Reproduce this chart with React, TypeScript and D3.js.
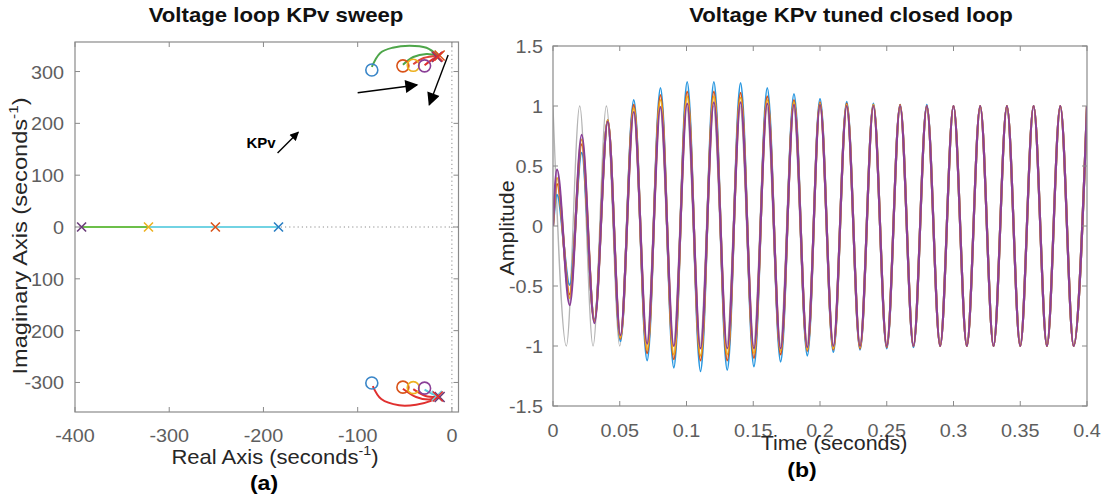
import React from "react";
import * as d3 from "d3";

// ---------- Left panel: pole-zero / root locus data (Real, Imag) ----------
const realAxisPoles = [
  { re: -393, color: "#6b3d7a" },
  { re: -322, color: "#EDB120" },
  { re: -251, color: "#D95319" },
  { re: -184, color: "#2a7fc4" },
];
const realAxisBranches = [
  { from: -393, to: -322, color: "#6cbf4a" },
  { from: -322, to: -184, color: "#72d3e3" },
];
const complexCircles = [
  { re: -85, im: 303, color: "#3a86c8" },
  { re: -52, im: 311, color: "#D95319" },
  { re: -41, im: 312, color: "#EDB120" },
  { re: -29, im: 311, color: "#8a3f97" },
  { re: -85, im: -301, color: "#3a86c8" },
  { re: -52, im: -309, color: "#D95319" },
  { re: -41, im: -310, color: "#EDB120" },
  { re: -29, im: -311, color: "#8a3f97" },
];
const complexCrosses = [
  { re: -16, im: 328, color: "#6b3d7a" },
  { re: -13, im: 331, color: "#D95319" },
  { re: -15, im: 329, color: "#e03030" },
  { re: -16, im: -326, color: "#72d3e3" },
  { re: -13, im: -328, color: "#6b3d7a" },
  { re: -15, im: -327, color: "#e03030" },
];
const branchGreen1 = [[-85, 309], [-76, 336], [-63, 346], [-45, 350], [-27, 346], [-15, 331]];
const branchGreen2 = [[-52, 313], [-41, 328], [-27, 334], [-15, 331]];
const branchRed1 = [[-41, 314], [-30, 326], [-15, 330]];
const branchRed2 = [[-29, 312], [-21, 323], [-14, 330]];
const branchRedLow1 = [[-84, -307], [-75, -332], [-56, -344], [-38, -343], [-23, -336], [-14, -327]];
const branchRedLow2 = [[-52, -312], [-38, -328], [-24, -333], [-14, -328]];
const branchRedLow3 = [[-41, -313], [-28, -326], [-15, -328]];
const branchCyanLow = [[-29, -314], [-21, -322], [-14, -327]];

const annotationArrows = [
  { x1: -100, y1: 259, x2: -37, y2: 274, big: true },
  { x1: -4, y1: 332, x2: -24, y2: 236, big: true },
  { x1: -185, y1: 143, x2: -163, y2: 183, big: false },
];
const kpvLabel = { re: -218, im: 152, text: "KPv" };

const leftXTicks = [-400, -300, -200, -100, 0];
const leftXTickLabels = ["-400", "-300", "-200", "-100", "0"];
const leftYTicks = [-300, -200, -100, 0, 100, 200, 300];
const leftYTickLabels = ["-300", "200", "100", "0", "100", "200", "300"];

// ---------- Right panel: closed-loop responses (extrema) ----------
const extremaTimes = [
  0, 0.003, 0.0125, 0.0215, 0.031, 0.041, 0.0505, 0.0605, 0.0705, 0.0805, 0.0905,
  0.1005, 0.1105, 0.1205, 0.1305, 0.1405, 0.1505, 0.1605, 0.1705, 0.1805, 0.1905,
  0.2, 0.21, 0.22, 0.23, 0.24, 0.25, 0.26, 0.27, 0.28, 0.29, 0.3, 0.31, 0.32, 0.33,
  0.34, 0.35, 0.36, 0.37, 0.38, 0.39, 0.4,
];
const blueValues = [
  0, 0.26, -0.49, 0.61, -0.78, 0.88, -0.96, 1.05, -1.12, 1.15, -1.18, 1.2, -1.21, 1.2,
  -1.2, 1.19, -1.17, 1.15, -1.13, 1.1, -1.08, 1.06, -1.05, 1.035, -1.03, 1.02, -1.02,
  1.01, -1.01, 1.01, -1.0, 1.0, -1.0, 1.0, -1.0, 1.0, -1.0, 1.0, -1.0, 1.0, -1.0, 1.0,
];
const orangeValues = [
  0, 0.35, -0.57, 0.68, -0.79, 0.88, -0.94, 1.01, -1.06, 1.09, -1.11, 1.12, -1.12, 1.12,
  -1.12, 1.11, -1.1, 1.08, -1.07, 1.05, -1.04, 1.03, -1.03, 1.02, -1.02, 1.01, -1.01,
  1.01, -1.0, 1.0, -1.0, 1.0, -1.0, 1.0, -1.0, 1.0, -1.0, 1.0, -1.0, 1.0, -1.0, 1.0,
];
const yellowValues = [
  0, 0.4, -0.6, 0.72, -0.8, 0.88, -0.93, 0.98, -1.03, 1.05, -1.07, 1.08, -1.08, 1.08,
  -1.07, 1.07, -1.06, 1.05, -1.04, 1.03, -1.03, 1.02, -1.02, 1.01, -1.01, 1.01, -1.0,
  1.0, -1.0, 1.0, -1.0, 1.0, -1.0, 1.0, -1.0, 1.0, -1.0, 1.0, -1.0, 1.0, -1.0, 1.0,
];
const purpleValues = [
  0, 0.47, -0.66, 0.76, -0.81, 0.87, -0.91, 0.95, -0.98, 0.99, -1.0, 1.02, -1.02, 1.03,
  -1.02, 1.03, -1.02, 1.02, -1.02, 1.01, -1.01, 1.01, -1.0, 1.0, -1.0, 1.0, -1.0, 1.0,
  -1.0, 1.0, -1.0, 1.0, -1.0, 1.0, -1.0, 1.0, -1.0, 1.0, -1.0, 1.0, -1.0, 1.0,
];
const refTimes = [
  0, 0.01, 0.02, 0.03, 0.04, 0.05, 0.06, 0.07, 0.08, 0.09, 0.1, 0.11, 0.12, 0.13, 0.14,
  0.15, 0.16, 0.17, 0.18, 0.19, 0.2, 0.21, 0.22, 0.23, 0.24, 0.25, 0.26, 0.27, 0.28, 0.29,
  0.3, 0.31, 0.32, 0.33, 0.34, 0.35, 0.36, 0.37, 0.38, 0.39, 0.4,
];
const refValues = [
  1, -1, 1, -1, 1, -1, 1, -1, 1, -1, 1, -1, 1, -1, 1, -1, 1, -1, 1, -1, 1, -1, 1, -1, 1,
  -1, 1, -1, 1, -1, 1, -1, 1, -1, 1, -1, 1, -1, 1, -1, 1,
];
const responseSeries = [
  { name: "ref", times: refTimes, values: refValues, color: "#b4b4b4", width: 1.3 },
  { name: "blue", times: extremaTimes, values: blueValues, color: "#2a98e0", width: 2.2 },
  { name: "orange", times: extremaTimes, values: orangeValues, color: "#D95319", width: 2.2 },
  { name: "yellow", times: extremaTimes, values: yellowValues, color: "#EDB120", width: 2.2 },
  { name: "purple", times: extremaTimes, values: purpleValues, color: "#8a3f97", width: 2.2 },
];
const rightXTicks = [0, 0.05, 0.1, 0.15, 0.2, 0.25, 0.3, 0.35, 0.4];
const rightXTickLabels = ["0", "0.05", "0.1", "0.15", "0.2", "0.25", "0.3", "0.35", "0.4"];
const rightYTicks = [-1.5, -1, -0.5, 0, 0.5, 1, 1.5];
const rightYTickLabels = ["-1.5", "-1", "-0.5", "0", "0.5", "1", "1.5"];

const FONT = "'Liberation Sans', Arial, Helvetica, sans-serif";
const AXIS = "#8a8a8a";
const TICKTXT = "#5e5e5e";

function T(props: any) {
  const { x, y, size = 18, weight = "normal", anchor = "middle", fill = TICKTXT, sx = 1.1, rotate = 0, children } = props;
  return (
    <text
      transform={`translate(${x},${y}) rotate(${rotate}) scale(${sx},1)`}
      fontFamily={FONT}
      fontSize={size}
      fontWeight={weight}
      textAnchor={anchor}
      fill={fill}
    >
      {children}
    </text>
  );
}

export default function App() {
  const lx = d3.scaleLinear().domain([-400, 7]).range([75, 458.5]);
  const ly = d3.scaleLinear().domain([-357, 357]).range([412, 42]);
  const rx = d3.scaleLinear().domain([0, 0.4]).range([553, 1087]);
  const ry = d3.scaleLinear().domain([-1.5, 1.5]).range([406, 46]);

  const locusLine = d3
    .line<number[]>()
    .x((d) => lx(d[0]))
    .y((d) => ly(d[1]))
    .curve(d3.curveCatmullRom);

  const respLine = (times: number[]) =>
    d3
      .line<number>()
      .x((_, i) => rx(times[i]))
      .y((d) => ry(d))
      .curve(d3.curveMonotoneX);

  const tickLen = 5;
  const cross = (cx: number, cy: number, r: number) =>
    `M${cx - r},${cy - r}L${cx + r},${cy + r}M${cx - r},${cy + r}L${cx + r},${cy - r}`;

  const branches = [
    { pts: branchGreen1, color: "#4ea64a" },
    { pts: branchGreen2, color: "#4ea64a" },
    { pts: branchRed1, color: "#e0453a" },
    { pts: branchRed2, color: "#e0302f" },
    { pts: branchRedLow1, color: "#e0302f" },
    { pts: branchRedLow2, color: "#e0302f" },
    { pts: branchRedLow3, color: "#e0302f" },
    { pts: branchCyanLow, color: "#5ccbdc" },
  ];

  return (
    <div style={{ position: "absolute", left: 0, top: 0 }}>
      <svg width={1101} height={494} style={{ display: "block", background: "#fff" }}>
        <defs>
          <marker id="ah" viewBox="0 0 10 10" refX="9" refY="5" markerWidth="10" markerHeight="9" orient="auto" markerUnits="userSpaceOnUse">
            <path d="M0,0L10,5L0,10z" fill="#000" />
          </marker>
          <marker id="ahBig" viewBox="0 0 10 10" refX="9" refY="5" markerWidth="16" markerHeight="13" orient="auto" markerUnits="userSpaceOnUse">
            <path d="M0,0L10,5L0,10z" fill="#000" />
          </marker>
          <clipPath id="clipL">
            <rect x={75} y={42} width={383.5} height={370} />
          </clipPath>
          <clipPath id="clipR">
            <rect x={553} y={46} width={534} height={360} />
          </clipPath>
        </defs>

        {/* ================= LEFT PANEL ================= */}
        <T x={276} y={22} size={20} weight="bold" fill="#111" sx={1.11}>Voltage loop KPv sweep</T>

        <g clipPath="url(#clipL)">
          <line x1={lx(-400)} x2={lx(7)} y1={ly(0)} y2={ly(0)} stroke="#8c8c8c" strokeWidth={1} strokeDasharray="1.2,3" />
          <line x1={lx(0)} x2={lx(0)} y1={ly(357)} y2={ly(-357)} stroke="#8c8c8c" strokeWidth={1} strokeDasharray="1.2,3" />

          {realAxisBranches.map((b, i) => (
            <line key={"rb" + i} x1={lx(b.from)} x2={lx(b.to)} y1={ly(0)} y2={ly(0)} stroke={b.color} strokeWidth={2.2} />
          ))}
          {branches.map((b, i) => (
            <path key={"br" + i} d={locusLine(b.pts) || ""} fill="none" stroke={b.color} strokeWidth={2} />
          ))}
          {complexCircles.map((c, i) => (
            <circle key={"cc" + i} cx={lx(c.re)} cy={ly(c.im)} r={6} fill="none" stroke={c.color} strokeWidth={1.6} />
          ))}
          {complexCrosses.map((c, i) => (
            <path key={"cx" + i} d={cross(lx(c.re), ly(c.im), 5)} stroke={c.color} strokeWidth={1.6} fill="none" />
          ))}
          {realAxisPoles.map((p, i) => (
            <path key={"rp" + i} d={cross(lx(p.re), ly(0), 4.5)} stroke={p.color} strokeWidth={1.6} fill="none" />
          ))}
        </g>

        {annotationArrows.map((a, i) => (
          <line
            key={"ar" + i}
            x1={lx(a.x1)}
            y1={ly(a.y1)}
            x2={lx(a.x2)}
            y2={ly(a.y2)}
            stroke="#000"
            strokeWidth={1.4}
            markerEnd={a.big ? "url(#ahBig)" : "url(#ah)"}
          />
        ))}
        <T x={lx(kpvLabel.re)} y={ly(kpvLabel.im)} size={15} weight="bold" fill="#000" anchor="start" sx={1.0}>
          {kpvLabel.text}
        </T>

        <rect x={75} y={42} width={383.5} height={370} fill="none" stroke={AXIS} strokeWidth={1.2} />
        {leftXTicks.map((t, i) => (
          <g key={"lxt" + i}>
            <line x1={lx(t)} x2={lx(t)} y1={412} y2={412 - tickLen} stroke={AXIS} />
            <line x1={lx(t)} x2={lx(t)} y1={42} y2={42 + tickLen} stroke={AXIS} />
            <T x={lx(t)} y={442}>{leftXTickLabels[i]}</T>
          </g>
        ))}
        {leftYTicks.map((t, i) => (
          <g key={"lyt" + i}>
            <line x1={75} x2={75 + tickLen} y1={ly(t)} y2={ly(t)} stroke={AXIS} />
            <line x1={458.5} x2={458.5 - tickLen} y1={ly(t)} y2={ly(t)} stroke={AXIS} />
            <T x={64} y={ly(t) + 7} anchor="end">{leftYTickLabels[i]}</T>
          </g>
        ))}

        <T x={275} y={464} size={20} fill="#262626" sx={1.1}>
          Real Axis (seconds
          <tspan fontSize={13} dy={-9}>-1</tspan>
          <tspan dy={9}>)</tspan>
        </T>
        <T x={27} y={236} size={20} fill="#262626" sx={1.18} rotate={-90}>
          Imaginary Axis (seconds
          <tspan fontSize={13} dy={-9}>-1</tspan>
          <tspan dy={9}>)</tspan>
        </T>
        <T x={264} y={490} size={21} weight="bold" fill="#000" sx={1.1}>(a)</T>

        {/* ================= RIGHT PANEL ================= */}
        <T x={851} y={22} size={20} weight="bold" fill="#111" sx={1.11}>Voltage KPv tuned closed loop</T>

        <g clipPath="url(#clipR)">
          {responseSeries.map((s) => (
            <path
              key={s.name}
              d={respLine(s.times)(s.values) || ""}
              fill="none"
              stroke={s.color}
              strokeWidth={s.width}
              strokeLinejoin="round"
            />
          ))}
        </g>

        <rect x={553} y={46} width={534} height={360} fill="none" stroke={AXIS} strokeWidth={1.2} />
        {rightXTicks.map((t, i) => (
          <g key={"rxt" + i}>
            <line x1={rx(t)} x2={rx(t)} y1={406} y2={406 - tickLen} stroke={AXIS} />
            <line x1={rx(t)} x2={rx(t)} y1={46} y2={46 + tickLen} stroke={AXIS} />
            <T x={rx(t)} y={437}>{rightXTickLabels[i]}</T>
          </g>
        ))}
        {rightYTicks.map((t, i) => (
          <g key={"ryt" + i}>
            <line x1={553} x2={553 + tickLen} y1={ry(t)} y2={ry(t)} stroke={AXIS} />
            <line x1={1087} x2={1087 - tickLen} y1={ry(t)} y2={ry(t)} stroke={AXIS} />
            <T x={543} y={ry(t) + 7} anchor="end">{rightYTickLabels[i]}</T>
          </g>
        ))}

        <T x={834} y={450} size={20} fill="#262626" sx={1.07}>Time (seconds)</T>
        <T x={514} y={228} size={20} fill="#262626" sx={1.07} rotate={-90}>Amplitude</T>
        <T x={802} y={477} size={21} weight="bold" fill="#000" sx={1.1}>(b)</T>
      </svg>
    </div>
  );
}
